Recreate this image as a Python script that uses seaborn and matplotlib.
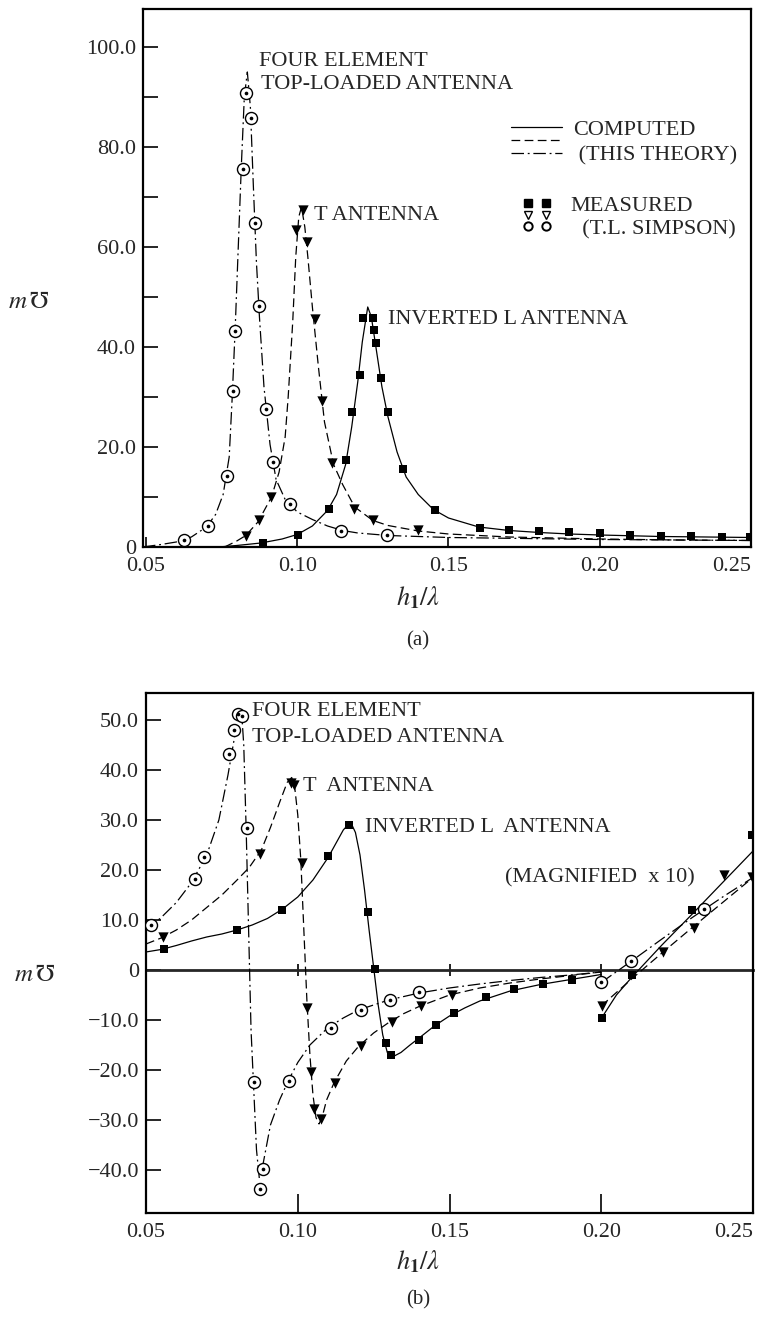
import pandas as pd
import matplotlib
matplotlib.use("Agg")
import matplotlib.pyplot as plt
import seaborn as sns
from matplotlib.lines import Line2D
from matplotlib.ticker import MultipleLocator, FuncFormatter

sns.set_theme(style="white")
plt.rcParams["font.family"] = ["Liberation Serif", "DejaVu Serif"]
plt.rcParams["mathtext.fontset"] = "stix"

# ---------------- (a) values ----------------
# four element top-loaded antenna, computed (dash-dot)
a4_cx = [0.049, 0.055, 0.060, 0.065, 0.070, 0.073, 0.0755, 0.0775, 0.0785, 0.0795, 0.0805,
         0.0815, 0.0825, 0.0835, 0.0845, 0.0855, 0.0865, 0.0875, 0.089, 0.091, 0.093, 0.096,
         0.100, 0.105, 0.110, 0.115, 0.120, 0.130, 0.150, 0.175, 0.200, 0.225, 0.250]
a4_cy = [0.0, 0.5, 1.0, 2.0, 4.0, 6.5, 10.5, 18.0, 30.0, 44.0, 60.0,
         76.0, 90.0, 95.0, 88.0, 72.0, 57.0, 46.0, 32.0, 20.5, 13.5, 9.5,
         7.0, 5.5, 4.2, 3.3, 2.8, 2.3, 1.9, 1.7, 1.5, 1.4, 1.3]
a4_mx = [0.0625, 0.0706, 0.0768, 0.0789, 0.0794, 0.0819, 0.0829, 0.0847, 0.0861, 0.0872,
         0.0896, 0.0919, 0.0975, 0.1146, 0.1296]
a4_my = [1.3, 4.2, 14.1, 31.1, 43.2, 75.5, 90.7, 85.7, 64.8, 48.2, 27.5, 16.9, 8.6, 3.1, 2.3]

# T antenna (dashed)
aT_cx = [0.076, 0.080, 0.083, 0.087, 0.0915, 0.094, 0.096, 0.097, 0.0985, 0.0995, 0.1005,
         0.1014, 0.1025, 0.1035, 0.105, 0.107, 0.109, 0.112, 0.115, 0.119, 0.125, 0.130,
         0.140, 0.150, 0.170, 0.200, 0.225, 0.250]
aT_cy = [0.0, 1.2, 2.3, 5.0, 10.0, 15.0, 22.0, 30.0, 45.0, 58.0, 66.0,
         68.0, 64.0, 58.0, 48.0, 36.0, 25.0, 16.5, 12.5, 8.0, 5.3, 4.3,
         3.2, 2.6, 2.0, 1.6, 1.4, 1.3]
aT_mx = [0.0831, 0.0872, 0.0914, 0.0997, 0.1018, 0.1033, 0.1058, 0.1081, 0.1115, 0.1188,
         0.1250, 0.1399]
aT_my = [2.1, 5.3, 9.9, 63.4, 67.3, 60.9, 45.5, 29.1, 16.7, 7.5, 5.4, 3.3]

# inverted L antenna (solid)
aL_cx = [0.074, 0.080, 0.088, 0.095, 0.100, 0.105, 0.110, 0.113, 0.116, 0.118, 0.120,
         0.1215, 0.1233, 0.1245, 0.126, 0.128, 0.130, 0.133, 0.136, 0.140, 0.145, 0.150,
         0.160, 0.170, 0.180, 0.190, 0.200, 0.220, 0.250]
aL_cy = [0.0, 0.3, 0.8, 1.6, 2.5, 4.2, 7.3, 10.5, 16.5, 24.0, 33.0,
         41.0, 48.0, 46.0, 40.0, 32.0, 26.0, 19.0, 14.0, 10.5, 7.5, 5.8,
         4.0, 3.3, 2.9, 2.6, 2.4, 2.1, 1.9]
aL_mx = [0.0886, 0.1003, 0.1104, 0.1160, 0.1181, 0.1206, 0.1218, 0.1250, 0.1253, 0.1260,
         0.1278, 0.1299, 0.1350, 0.1454, 0.1604, 0.1701, 0.1799, 0.1900, 0.2000, 0.2100,
         0.2204, 0.2303, 0.2403, 0.2497]
aL_my = [0.7, 2.4, 7.6, 17.3, 26.9, 34.4, 45.7, 45.7, 43.3, 40.7,
         33.7, 26.9, 15.5, 7.3, 3.7, 3.4, 3.1, 2.9, 2.7, 2.3,
         2.1, 2.1, 1.9, 1.9]

# ---------------- (b) values ----------------
b4_cx = [0.050, 0.055, 0.060, 0.065, 0.070, 0.074, 0.077, 0.079, 0.0805, 0.0815, 0.0822,
         0.0830, 0.0838, 0.0846, 0.0855, 0.0864, 0.0873, 0.0885, 0.091, 0.094, 0.097, 0.100,
         0.104, 0.110, 0.115, 0.120, 0.130, 0.140, 0.150, 0.160, 0.170, 0.180, 0.190, 0.200]
b4_cy = [8.0, 10.5, 13.5, 17.5, 23.0, 30.0, 39.0, 46.0, 51.5, 51.5, 45.0,
         28.0, 8.0, -12.0, -24.0, -36.0, -41.5, -39.0, -31.0, -26.0, -22.0, -18.5,
         -15.0, -11.5, -9.6, -8.0, -6.0, -4.6, -3.6, -2.8, -2.1, -1.5, -1.0, -0.4]
b4_magx = [0.200, 0.210, 0.220, 0.230, 0.240, 0.250]
b4_magy = [-2.5, 1.8, 6.2, 10.5, 14.6, 18.5]
b4_mx = [0.0518, 0.0660, 0.0690, 0.0775, 0.0789, 0.0802, 0.0815, 0.0834, 0.0855, 0.0884,
         0.0876, 0.0970, 0.1108, 0.1207, 0.1304, 0.1400, 0.2000, 0.2098, 0.2340]
b4_my = [8.9, 18.2, 22.6, 43.2, 47.9, 51.3, 50.9, 28.3, -22.5, -39.8,
         -43.9, -22.3, -11.7, -8.0, -6.1, -4.5, -2.5, 1.8, 12.2]

bT_cx = [0.050, 0.055, 0.060, 0.065, 0.070, 0.075, 0.080, 0.084, 0.088, 0.091, 0.094,
         0.0965, 0.0980, 0.0990, 0.1000, 0.1010, 0.1020, 0.1030, 0.1040, 0.1050, 0.1060,
         0.1070, 0.1080, 0.1095, 0.1120, 0.1160, 0.1200, 0.1250, 0.1300, 0.1350, 0.1400,
         0.1500, 0.1600, 0.1700, 0.1800, 0.1900, 0.2000]
bT_cy = [5.2, 6.4, 8.0, 10.0, 12.5, 15.0, 18.0, 20.5, 24.0, 28.5, 33.5,
         37.5, 38.5, 36.5, 31.0, 22.0, 8.0, -6.0, -17.0, -25.0, -29.5,
         -30.8, -29.5, -26.0, -22.5, -18.2, -15.3, -12.6, -10.5, -8.7, -7.3,
         -5.0, -3.6, -2.6, -1.8, -1.1, -0.4]
bT_magx = [0.200, 0.210, 0.220, 0.230, 0.240, 0.250]
bT_magy = [-7.2, -1.8, 3.4, 8.5, 13.5, 18.5]
bT_mx = [0.0557, 0.0876, 0.0977, 0.0989, 0.1014, 0.1032, 0.1042, 0.1052, 0.1076, 0.1122,
         0.1207, 0.1311, 0.1407, 0.1508, 0.2004, 0.2202, 0.2305, 0.2406, 0.2497]
bT_my = [6.5, 23.1, 37.3, 37.0, 21.3, -7.7, -20.5, -27.8, -29.9, -22.7,
         -15.2, -10.5, -7.3, -5.0, -7.2, 3.5, 8.3, 19.0, 18.5]

bL_cx = [0.050, 0.055, 0.060, 0.065, 0.070, 0.075, 0.080, 0.085, 0.090, 0.095, 0.100,
         0.105, 0.110, 0.113, 0.115, 0.1165, 0.118, 0.119, 0.1205, 0.122, 0.1235, 0.125,
         0.1265, 0.128, 0.1295, 0.1315, 0.134, 0.137, 0.140, 0.145, 0.150, 0.155, 0.160,
         0.170, 0.180, 0.190, 0.200]
bL_cy = [3.6, 4.1, 4.9, 5.8, 6.6, 7.2, 8.0, 9.0, 10.3, 12.2, 14.6,
         18.0, 22.5, 25.8, 28.0, 29.0, 28.8, 27.5, 23.0, 16.0, 8.0, 0.5,
         -7.0, -13.0, -16.5, -17.3, -16.5, -15.0, -13.6, -11.2, -9.2, -7.6, -6.2,
         -4.2, -2.9, -1.9, -0.9]
bL_magx = [0.200, 0.205, 0.210, 0.220, 0.230, 0.240, 0.250]
bL_magy = [-9.7, -5.0, -1.5, 5.0, 11.2, 17.5, 23.8]
bL_mx = [0.0560, 0.0800, 0.0947, 0.1101, 0.1170, 0.1232, 0.1253, 0.1290, 0.1308, 0.1398,
         0.1456, 0.1515, 0.1619, 0.1711, 0.1808, 0.1905, 0.2004, 0.2102, 0.2298, 0.2497]
bL_my = [4.1, 7.9, 11.9, 22.7, 28.9, 11.5, 0.1, -14.7, -17.0, -14.1,
         -11.0, -8.7, -5.5, -3.9, -2.8, -2.0, -9.7, -1.0, 12.0, 27.0]

xticks = [0.05, 0.10, 0.15, 0.20, 0.25]
xticklabels = ["0.05", "0.10", "0.15", "0.20", "0.25"]

SOLID = "-"
DASHED = (0, (7, 3.5))
DASHDOT = (0, (10, 3, 1.5, 3))
FS = 16


def curve(ax, parts, ls):
    df = pd.concat([pd.DataFrame({"x": xs, "y": ys, "seg": i})
                    for i, (xs, ys) in enumerate(parts)])
    sns.lineplot(data=df, x="x", y="y", units="seg", estimator=None, sort=False,
                 color="black", linewidth=0.9, linestyle=ls, ax=ax, legend=False)


def points(ax, xs, ys, kind):
    if kind == "circle":
        sns.scatterplot(x=xs, y=ys, marker="o", s=75, color="white", edgecolor="black",
                        linewidth=1.0, ax=ax, zorder=4)
        sns.scatterplot(x=xs, y=ys, marker="o", s=7, color="black", linewidth=0,
                        ax=ax, zorder=5)
    elif kind == "tri":
        sns.scatterplot(x=xs, y=ys, marker="v", s=55, color="black", linewidth=0,
                        ax=ax, zorder=4)
    else:
        sns.scatterplot(x=xs, y=ys, marker="s", s=36, color="black", linewidth=0,
                        ax=ax, zorder=4)


def fmt(v, pos):
    if abs(v) < 1e-9:
        return "0"
    return f"{v:.1f}".replace("-", "\u2212")


fig = plt.figure(figsize=(7.59, 13.19), dpi=100)
ax_a = fig.add_axes([0.1884, 0.5853, 0.801, 0.4079])
ax_b = fig.add_axes([0.1924, 0.0804, 0.7997, 0.3942])

# ---------------- panel (a) ----------------
curve(ax_a, [(a4_cx, a4_cy)], DASHDOT)
curve(ax_a, [(aT_cx, aT_cy)], DASHED)
curve(ax_a, [(aL_cx, aL_cy)], SOLID)
points(ax_a, a4_mx, a4_my, "circle")
points(ax_a, aT_mx, aT_my, "tri")
points(ax_a, aL_mx, aL_my, "square")

ax_a.set_xlim(0.049, 0.25)
ax_a.set_ylim(0, 107.6)
ax_a.yaxis.set_major_locator(MultipleLocator(20))
ax_a.yaxis.set_minor_locator(MultipleLocator(10))
ax_a.yaxis.set_major_formatter(FuncFormatter(fmt))
ax_a.tick_params(axis="y", which="both", direction="in", length=11, width=1.4,
                 labelsize=FS, pad=5, left=True, right=False)
ax_a.text(0.0872, 97.1, "FOUR ELEMENT", fontsize=FS, va="center")
ax_a.text(0.0880, 92.4, "TOP-LOADED ANTENNA", fontsize=FS, va="center")
ax_a.text(0.1055, 66.2, "T ANTENNA", fontsize=FS, va="center")
ax_a.text(0.1300, 45.4, "INVERTED L ANTENNA", fontsize=FS, va="center")

lines_leg = ax_a.legend(
    handles=[Line2D([], [], color="black", lw=0.9, ls=SOLID),
             Line2D([], [], color="black", lw=0.9, ls=DASHED),
             Line2D([], [], color="black", lw=0.9, ls=DASHDOT)],
    labels=["COMPUTED", " ", " (THIS THEORY)"], loc="upper left",
    bbox_to_anchor=(0.605, 0.795), frameon=False, fontsize=FS, handlelength=2.3,
    handletextpad=0.5, labelspacing=-0.35, borderpad=0, borderaxespad=0)
ax_a.add_artist(lines_leg)
ax_a.legend(
    handles=[Line2D([], [], ls="none", marker="s", ms=6, color="black"),
             Line2D([], [], ls="none", marker="v", ms=6, mfc="white", mec="black", mew=1),
             Line2D([], [], ls="none", marker="o", ms=6, mfc="white", mec="black", mew=1.4)],
    labels=["MEASURED", " ", "  (T.L. SIMPSON)"], loc="upper left",
    bbox_to_anchor=(0.623, 0.654), frameon=False, fontsize=FS, numpoints=2,
    handlelength=1.4, handletextpad=0.8, labelspacing=-0.4, borderpad=0,
    borderaxespad=0)

# ---------------- panel (b) ----------------
curve(ax_b, [(b4_cx, b4_cy), (b4_magx, b4_magy)], DASHDOT)
curve(ax_b, [(bT_cx, bT_cy), (bT_magx, bT_magy)], DASHED)
curve(ax_b, [(bL_cx, bL_cy), (bL_magx, bL_magy)], SOLID)
points(ax_b, b4_mx, b4_my, "circle")
points(ax_b, bT_mx, bT_my, "tri")
points(ax_b, bL_mx, bL_my, "square")

ax_b.set_xlim(0.05, 0.25)
ylim_b = (-48.6, 55.4)
ax_b.set_ylim(*ylim_b)
ax_b.yaxis.set_major_locator(MultipleLocator(10))
ax_b.yaxis.set_major_formatter(FuncFormatter(fmt))
ax_b.tick_params(axis="y", which="both", direction="in", length=11, width=1.4,
                 labelsize=FS, pad=5, left=True, right=False)
ax_b.text(0.0850, 51.7, "FOUR ELEMENT", fontsize=FS, va="center")
ax_b.text(0.0850, 46.4, "TOP-LOADED ANTENNA", fontsize=FS, va="center")
ax_b.text(0.1016, 36.6, "T  ANTENNA", fontsize=FS, va="center")
ax_b.text(0.1220, 28.4, "INVERTED L  ANTENNA", fontsize=FS, va="center")
ax_b.text(0.1997, 18.4, "(MAGNIFIED  x 10)", fontsize=FS, va="center", ha="center")

# zero line with its own ticks
zero_frac = -ylim_b[0] / (ylim_b[1] - ylim_b[0])
sec = ax_b.secondary_xaxis(zero_frac)
sec.set_xticks(xticks[1:-1])
sec.spines["bottom"].set_linewidth(2.0)
sec.spines["top"].set_linewidth(2.0)
sec.tick_params(axis="x", which="both", direction="inout", length=9, width=1.4,
                top=True, bottom=True, labeltop=False, labelbottom=False)

# ---------------- common styling ----------------
for ax, tlen in ((ax_a, 7), (ax_b, 14)):
    ax.set_xticks(xticks)
    ax.set_xticklabels(xticklabels)
    ax.get_xticklabels()[-1].set_ha("right")
    ax.tick_params(axis="x", which="both", direction="in", length=tlen, width=1.4,
                   labelsize=FS, pad=7, bottom=True, top=False)
    for sp in ax.spines.values():
        sp.set_visible(True)
        sp.set_color("black")
        sp.set_linewidth(1.6)
    ax.grid(False)
    ax.set_xlabel(r"$h_{\mathbf{1}}/\lambda$", fontsize=19, va="center")
    ax.set_ylabel(r"$m\,\mho$", fontsize=18, rotation=0, ha="center", va="center")

ax_a.xaxis.set_label_coords(0.452, -0.095)
ax_a.yaxis.set_label_coords(-0.1875, 0.455)
ax_b.xaxis.set_label_coords(0.448, -0.094)
ax_b.yaxis.set_label_coords(-0.1845, 0.458)

fig.text(418 / 759, 1 - 641 / 1319, "(a)", fontsize=15, ha="center", va="center")
fig.text(418 / 759, 1 - 1300 / 1319, "(b)", fontsize=15, ha="center", va="center")

fig.savefig("out.png", dpi=100, facecolor="white")
